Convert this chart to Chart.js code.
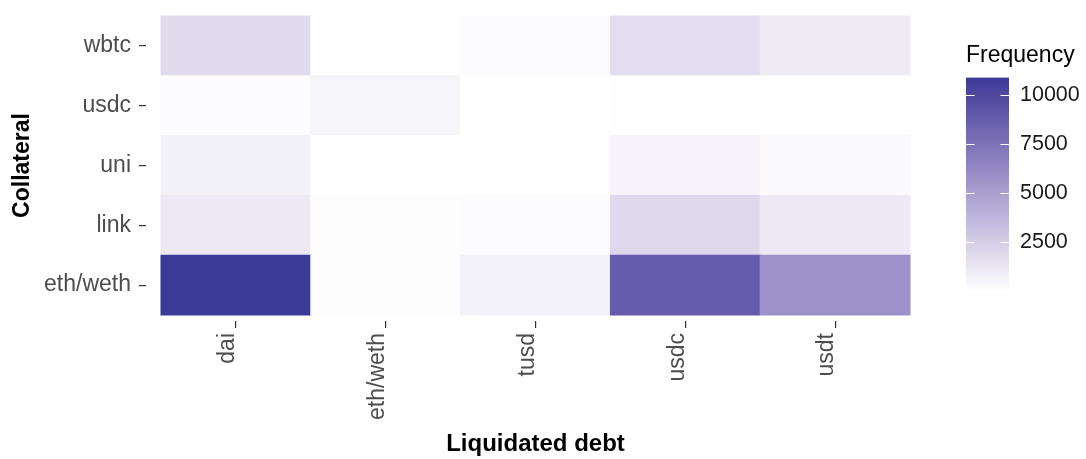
<!DOCTYPE html>
<html>
<head>
<meta charset="utf-8">
<script src="https://cdn.jsdelivr.net/npm/chart.js@4.4.1/dist/chart.umd.min.js"></script>
<style>
  html, body { margin: 0; padding: 0; background: #fff; }
  #wrap { position: relative; width: 1086px; height: 459px; }
  #heat { position: absolute; left: 0; top: 0; }
  #bar { position: absolute; left: 966px; top: 40px; }
</style>
</head>
<body>
<div id="wrap">
  <canvas id="heat" width="1086" height="459"></canvas>
  <canvas id="bar" width="120" height="280"></canvas>
</div>
<script>
// categories (x = liquidated debt, y = collateral, bottom to top)
const debtLabels = ['dai', 'eth/weth', 'tusd', 'usdc', 'usdt'];
const collateralLabels = ['eth/weth', 'link', 'uni', 'usdc', 'wbtc'];

// frequency per collateral row, in debtLabels order
const ethFreq  = [10900, 80, 660, 8830, 5780];
const linkFreq = [1120, 80, 180, 1990, 1060];
const uniFreq  = [720, 40, 20, 550, 280];
const usdcFreq = [200, 520, 0, 60, 60];
const wbtcFreq = [1780, 60, 200, 1650, 1010];

const legendTicks = [2500, 5000, 7500, 10000];

const rows = [ethFreq, linkFreq, uniFreq, usdcFreq, wbtcFreq];
const allValues = rows.flat();
const freqMin = Math.min(...allValues);
const freqMax = Math.max(...allValues);

const FONT = '"Liberation Sans", Arial, sans-serif';
const LOW = [255, 255, 255];
const HIGH = [60, 58, 151];

// colour ramp in Lab space, like ggplot's scale_fill_gradient
function toLin(c) { c /= 255; return c <= 0.04045 ? c / 12.92 : Math.pow((c + 0.055) / 1.055, 2.4); }
function fromLin(c) { c = c <= 0.0031308 ? 12.92 * c : 1.055 * Math.pow(c, 1 / 2.4) - 0.055; return Math.round(Math.max(0, Math.min(1, c)) * 255); }
const WX = 0.95047, WY = 1, WZ = 1.08883;
function rgb2lab(c) {
  const r = toLin(c[0]), g = toLin(c[1]), b = toLin(c[2]);
  const x = (0.4124 * r + 0.3576 * g + 0.1805 * b) / WX;
  const y = (0.2126 * r + 0.7152 * g + 0.0722 * b) / WY;
  const z = (0.0193 * r + 0.1192 * g + 0.9505 * b) / WZ;
  const f = t => t > 0.008856 ? Math.cbrt(t) : 7.787 * t + 16 / 116;
  return [116 * f(y) - 16, 500 * (f(x) - f(y)), 200 * (f(y) - f(z))];
}
function lab2rgb(l) {
  const fy = (l[0] + 16) / 116, fx = fy + l[1] / 500, fz = fy - l[2] / 200;
  const inv = t => t * t * t > 0.008856 ? t * t * t : (t - 16 / 116) / 7.787;
  const x = inv(fx) * WX, y = inv(fy) * WY, z = inv(fz) * WZ;
  const r = 3.2406 * x - 1.5372 * y - 0.4986 * z;
  const g = -0.9689 * x + 1.8758 * y + 0.0415 * z;
  const b = 0.0557 * x - 0.2040 * y + 1.0570 * z;
  return `rgb(${fromLin(r)}, ${fromLin(g)}, ${fromLin(b)})`;
}
const labLow = rgb2lab(LOW), labHigh = rgb2lab(HIGH);
function fillColor(v) {
  const t = Math.max(0, Math.min(1, (v - freqMin) / (freqMax - freqMin)));
  return lab2rgb(labLow.map((a, i) => a + (labHigh[i] - a) * t));
}

const datasets = rows.map((vals, r) => ({
  label: collateralLabels[r],
  data: vals.map((v, i) => ({ x: i + 1, y: [r + 0.5, r + 1.5] })),
  backgroundColor: vals.map(fillColor),
  borderWidth: 0,
  inflateAmount: 0.5,
  barPercentage: 1,
  categoryPercentage: 1,
  grouped: false
}));

new Chart(document.getElementById('heat'), {
  type: 'bar',
  data: { datasets: datasets },
  options: {
    responsive: false,
    animation: false,
    layout: { padding: { top: 10, right: 161, left: 0, bottom: 0 } },
    plugins: { legend: { display: false }, tooltip: { enabled: false } },
    scales: {
      x: {
        type: 'linear',
        min: 0.4,
        max: 5.6,
        offset: false,
        afterBuildTicks: (scale) => { scale.ticks = debtLabels.map((_, i) => ({ value: i + 1 })); },
        afterFit: (scale) => {
          scale.height = 138;
          scale.paddingLeft = 0;
          scale.paddingRight = 0;
        },
        grid: { offset: false, drawOnChartArea: false, drawTicks: true, tickLength: 7, lineWidth: 1.2, color: '#333333' },
        border: { display: false },
        ticks: {
          autoSkip: false,
          minRotation: 90,
          maxRotation: 90,
          padding: 5,
          labelOffset: -8,
          color: '#4d4d4d',
          font: { family: FONT, size: 23 },
          callback: (v) => debtLabels[v - 1]
        },
        title: {
          display: true,
          text: 'Liquidated debt',
          color: '#000000',
          font: { family: FONT, size: 24, weight: 'bold' },
          padding: { top: 0, bottom: 0 }
        }
      },
      y: {
        type: 'linear',
        min: 0.4,
        max: 5.6,
        afterBuildTicks: (scale) => { scale.ticks = collateralLabels.map((_, i) => ({ value: i + 1 })); },
        afterFit: (scale) => {
          scale.width = 146;
          scale.paddingTop = 0;
          scale.paddingBottom = 0;
        },
        grid: { drawOnChartArea: false, drawTicks: true, tickLength: 7, lineWidth: 1.2, color: '#333333' },
        border: { display: false },
        ticks: {
          autoSkip: false,
          padding: 8,
          color: '#4d4d4d',
          font: { family: FONT, size: 23 },
          callback: (v) => collateralLabels[v - 1]
        },
        title: {
          display: true,
          text: 'Collateral',
          color: '#000000',
          font: { family: FONT, size: 23, weight: 'bold' },
          padding: { top: 9, bottom: 0 }
        }
      }
    }
  }
});

// colour bar legend
const barTickMarks = {
  id: 'barTickMarks',
  afterDatasetsDraw(chart) {
    const { ctx, chartArea } = chart;
    const y = chart.scales.y;
    const len = (chartArea.right - chartArea.left) / 5;
    ctx.save();
    ctx.strokeStyle = '#ffffff';
    ctx.lineWidth = 1.2;
    legendTicks.forEach(v => {
      const py = Math.round(y.getPixelForValue(v)) + 0.5;
      ctx.beginPath();
      ctx.moveTo(chartArea.left, py);
      ctx.lineTo(chartArea.left + len, py);
      ctx.moveTo(chartArea.right - len, py);
      ctx.lineTo(chartArea.right, py);
      ctx.stroke();
    });
    ctx.restore();
  }
};

new Chart(document.getElementById('bar'), {
  type: 'bar',
  data: {
    labels: [''],
    datasets: [{
      data: [[freqMin, freqMax]],
      borderWidth: 0,
      barPercentage: 1,
      categoryPercentage: 1,
      backgroundColor: (context) => {
        const area = context.chart.chartArea;
        if (!area) return fillColor(freqMax);
        const g = context.chart.ctx.createLinearGradient(0, area.bottom, 0, area.top);
        for (let i = 0; i <= 20; i++) {
          g.addColorStop(i / 20, fillColor(freqMin + (freqMax - freqMin) * i / 20));
        }
        return g;
      }
    }]
  },
  options: {
    responsive: false,
    animation: false,
    layout: { padding: { top: 0, right: 0, left: 0, bottom: 29 } },
    plugins: {
      legend: { display: false },
      tooltip: { enabled: false },
      title: {
        display: true,
        text: 'Frequency',
        align: 'start',
        color: '#000000',
        font: { family: FONT, size: 23, weight: 'normal' },
        padding: { top: 2, bottom: 8 }
      }
    },
    scales: {
      x: { display: false },
      y: {
        position: 'right',
        min: freqMin,
        max: freqMax,
        afterBuildTicks: (scale) => { scale.ticks = legendTicks.map(v => ({ value: v })); },
        afterFit: (scale) => {
          scale.width = 77;
          scale.paddingTop = 0;
          scale.paddingBottom = 0;
        },
        grid: { display: false, drawTicks: false },
        border: { display: false },
        ticks: {
          padding: 11,
          color: '#1a1a1a',
          font: { family: FONT, size: 21.5 },
          callback: (v) => String(v)
        }
      }
    }
  },
  plugins: [barTickMarks]
});
</script>
</body>
</html>
